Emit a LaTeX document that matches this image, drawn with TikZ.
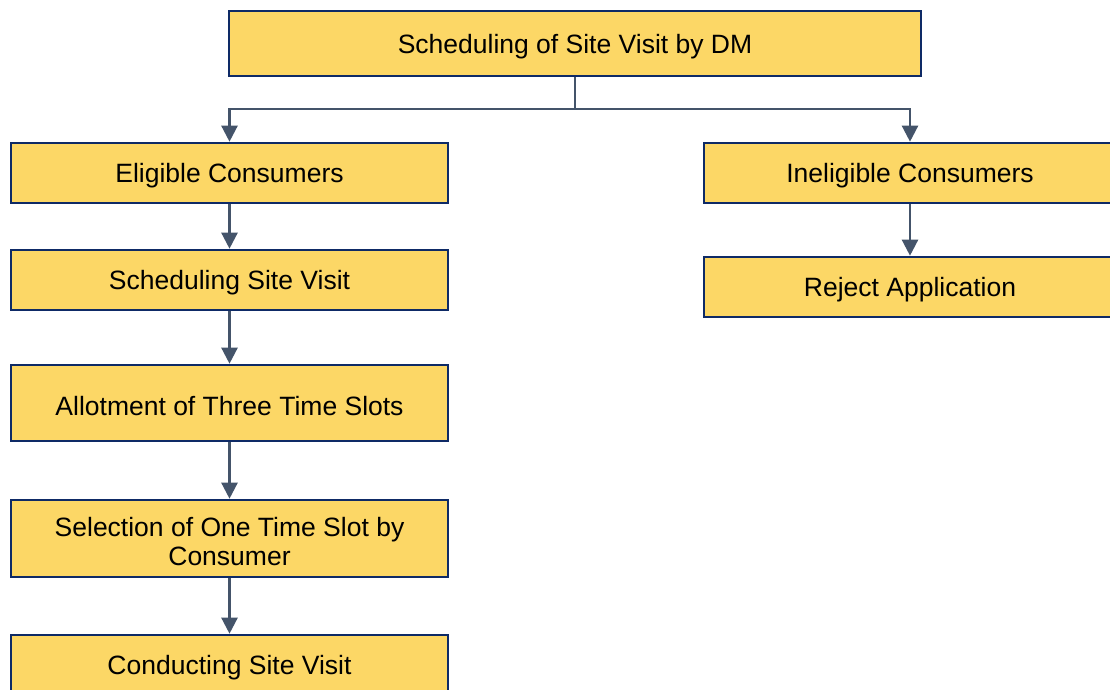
\documentclass[tikz,border=0pt]{standalone}
\usepackage{fontspec}
\setmainfont{Liberation Sans}
\usetikzlibrary{arrows.meta}
\definecolor{boxfill}{HTML}{FCD766}
\definecolor{boxline}{HTML}{0E2A66}
\definecolor{linkcol}{HTML}{44546A}
\tikzset{
  boxtext/.style={inner sep=0pt, align=center, font=\fontsize{26.5}{29}\selectfont, text=black},
  stepbox/.style={boxtext, draw=boxline, line width=2.6pt, fill=boxfill, rectangle,
    execute at begin node={\rule{0pt}{25pt}}},
  link/.style={draw=linkcol, line width=2.4pt,
    -{Triangle[length=16pt,width=16pt]}},
  plain/.style={draw=linkcol, line width=2.4pt}
}
\begin{document}
\begin{tikzpicture}[x=1pt,y=-1pt]
\useasboundingbox (0,0) rectangle (1110,690);
\clip (0,0) rectangle (1110,690);
% boxes
\node[stepbox, minimum width=692pt, minimum height=65pt] (top) at (575,43.5) {Scheduling of Site Visit by DM};
\node[stepbox, minimum width=437pt, minimum height=60pt] (elig) at (229.5,173) {Eligible Consumers};
\node[stepbox, minimum width=437pt, minimum height=60pt] (sched) at (229.5,280) {Scheduling Site Visit};
\node[stepbox, minimum width=437pt, minimum height=76pt] (allot) at (229.5,403) {Allotment of Three Time Slots};
\node[stepbox, minimum width=437pt, minimum height=77pt] (sel) at (229.5,538.5) {};
\node[boxtext] (seltext) at ([yshift=-3pt]sel.center) {Selection of One Time Slot by\\Consumer};
\node[stepbox, minimum width=437pt, minimum height=60pt] (cond) at (229.5,665) {Conducting Site Visit};
\node[stepbox, minimum width=412pt, minimum height=60pt] (inel) at (910,173) {Ineligible Consumers};
\node[stepbox, minimum width=412pt, minimum height=60pt] (rej) at (910,287) {Reject Application};
% branch point below the top box
\coordinate (split) at (top.south |- 0,109);
\draw[plain] (top.south) -- (split);
\draw[link] (split) -| (elig.north);
\draw[link] (split) -| (inel.north);
% chains
\draw[link] (elig) -- (sched);
\draw[link] (sched) -- (allot);
\draw[link] (allot) -- (sel);
\draw[link] (sel) -- (cond);
\draw[link] (inel) -- (rej);
\end{tikzpicture}
\end{document}
